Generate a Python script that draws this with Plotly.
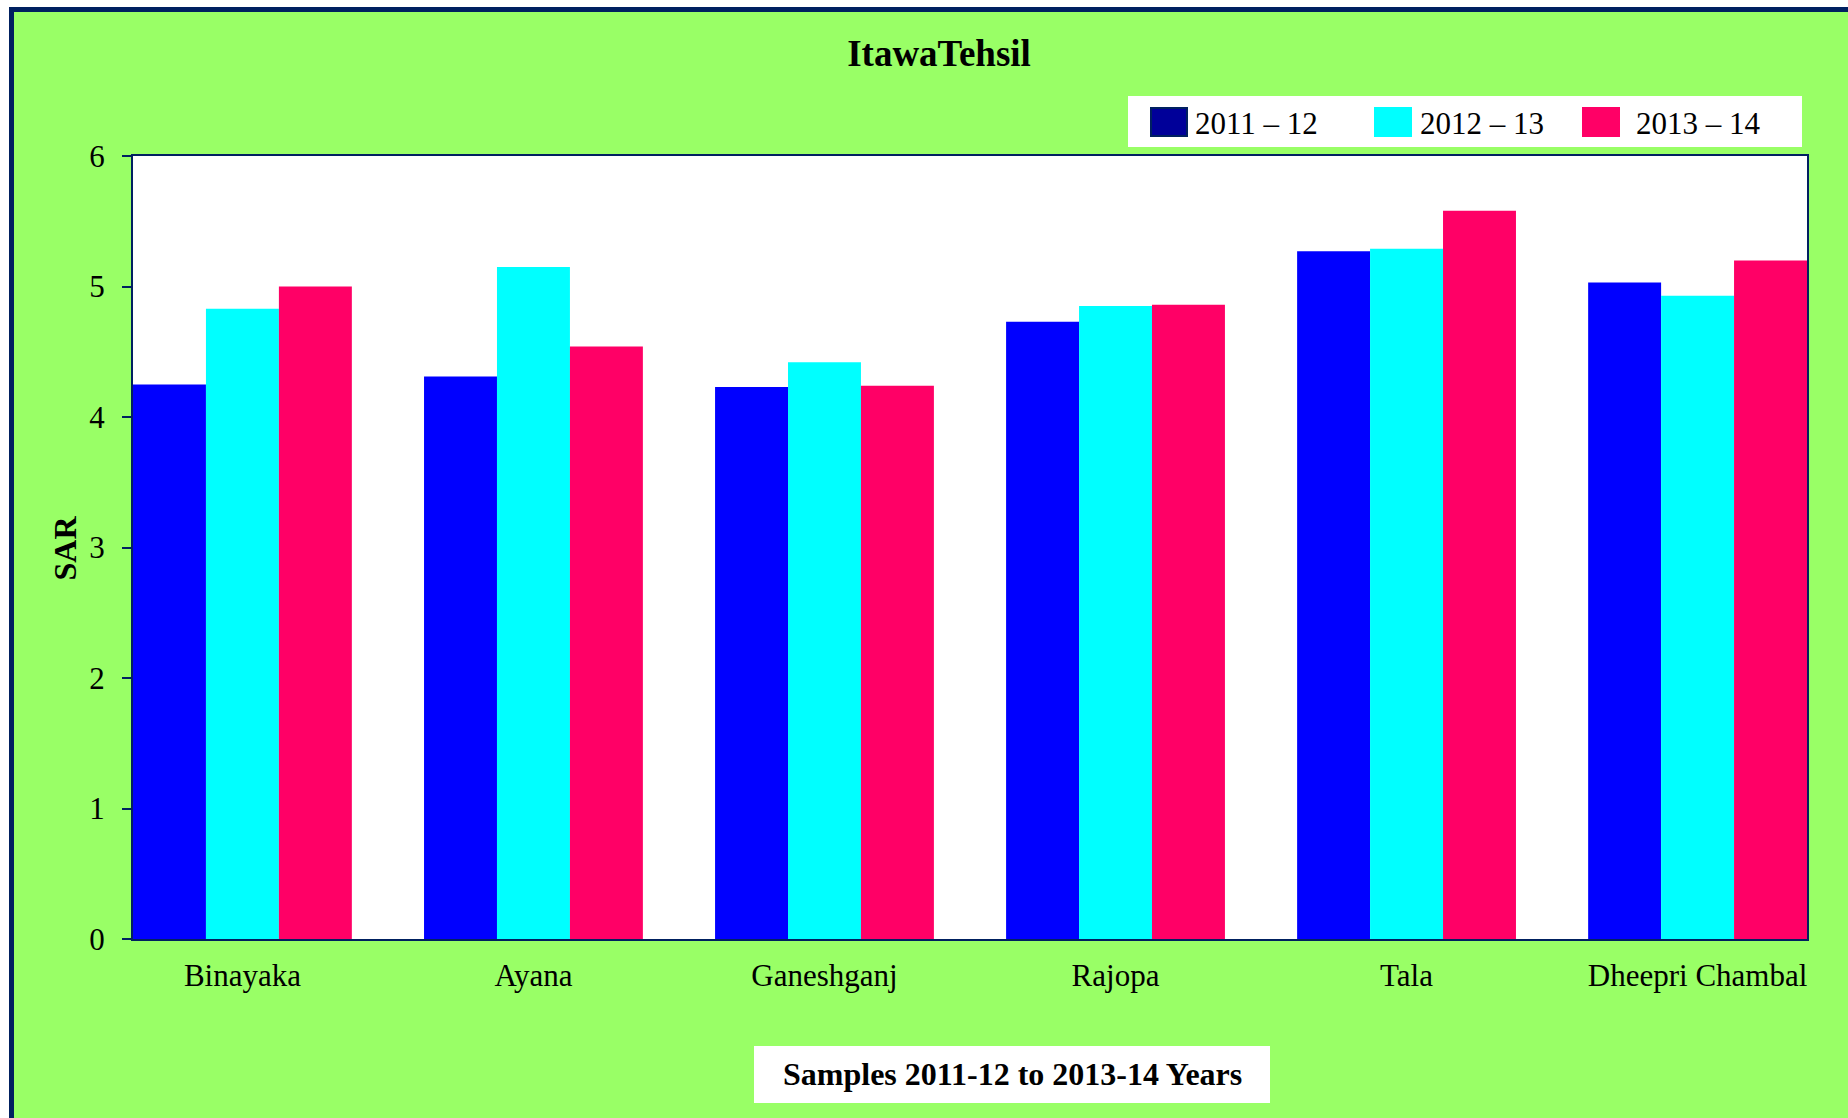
import plotly.graph_objects as go

# ---- data -------------------------------------------------------------
categories = ["Binayaka", "Ayana", "Ganeshganj", "Rajopa", "Tala", "Dheepri Chambal"]
sar_2011_12 = [4.25, 4.31, 4.23, 4.73, 5.27, 5.03]
sar_2012_13 = [4.83, 5.15, 4.42, 4.85, 5.29, 4.93]
sar_2013_14 = [5.00, 4.54, 4.24, 4.86, 5.58, 5.20]
series_names = ["2011 – 12", "2012 – 13", "2013 – 14"]
y_ticks = [0, 1, 2, 3, 4, 5, 6]

chart_title = "ItawaTehsil"
y_title = "SAR"
x_title = "Samples 2011-12 to 2013-14 Years"

# ---- styling ----------------------------------------------------------
bar_colors = ["#0000FF", "#00FFFF", "#FF0066"]
swatch_colors = ["#000099", "#00FFFF", "#FF0066"]
swatch_borders = ["#002060", "#00FFFF", "#FF0066"]
GREEN = "#99FF66"
NAVY = "#002060"
FONT = "Liberation Serif, Times New Roman, serif"

W, H = 1848, 1118
L, R, T, B = 133, 41, 156, 179
PW, PH = W - L - R, H - T - B


def px_x(x):
    """figure pixel column -> paper x"""
    return (x - L) / PW


def px_y(y):
    """figure pixel row -> paper y"""
    return (H - B - y) / PH


fig = go.Figure()
for name, vals, col in zip(series_names, [sar_2011_12, sar_2012_13, sar_2013_14], bar_colors):
    fig.add_trace(go.Bar(x=categories, y=vals, name=name, marker=dict(color=col, line=dict(width=0)),
                         showlegend=False))

shapes = [
    # white margin outside the framed chart area
    dict(type="rect", xref="paper", yref="paper", x0=px_x(-50), x1=px_x(9), y0=px_y(-50), y1=px_y(H + 50),
         fillcolor="white", line=dict(width=0), layer="below"),
    dict(type="rect", xref="paper", yref="paper", x0=px_x(-50), x1=px_x(W + 50), y0=px_y(-50), y1=px_y(7),
         fillcolor="white", line=dict(width=0), layer="below"),
    # navy frame
    dict(type="rect", xref="paper", yref="paper", x0=px_x(11.5), x1=px_x(W + 60), y0=px_y(9.5), y1=px_y(H + 60),
         fillcolor="rgba(0,0,0,0)", line=dict(color=NAVY, width=5), layer="below"),
    # legend box
    dict(type="rect", xref="paper", yref="paper", x0=px_x(1128), x1=px_x(1802), y0=px_y(96), y1=px_y(147),
         fillcolor="white", line=dict(width=0)),
    # x-axis title box
    dict(type="rect", xref="paper", yref="paper", x0=px_x(754), x1=px_x(1270), y0=px_y(1046), y1=px_y(1103),
         fillcolor="white", line=dict(width=0)),
]

annotations = [
    dict(text=f"<b>{y_title}</b>", xref="paper", yref="paper", x=px_x(64.5), y=px_y(548), textangle=-90,
         showarrow=False, xanchor="center", yanchor="middle", font=dict(family=FONT, size=32, color="black")),
    dict(text=f"<b>{x_title}</b>", xref="paper", yref="paper", x=px_x(1012), y=px_y(1074),
         showarrow=False, xanchor="center", yanchor="middle", font=dict(family=FONT, size=32, color="black")),
]

# legend entries
swatch_x = [1151, 1375, 1583]
text_x = [1193, 1418, 1634]
for i, name in enumerate(series_names):
    shapes.append(dict(type="rect", xref="paper", yref="paper",
                       x0=px_x(swatch_x[i]), x1=px_x(swatch_x[i] + 36), y0=px_y(108), y1=px_y(136),
                       fillcolor=swatch_colors[i], line=dict(color=swatch_borders[i], width=2)))
    annotations.append(dict(text=name, xref="paper", yref="paper", x=px_x(text_x[i]), y=px_y(123),
                            showarrow=False, xanchor="left", yanchor="middle",
                            font=dict(family=FONT, size=31, color="black")))

fig.update_layout(
    template="none",
    width=W, height=H, autosize=False,
    margin=dict(l=L, r=R, t=T, b=B, pad=0),
    paper_bgcolor=GREEN, plot_bgcolor="white",
    barmode="group", bargap=0.248, bargroupgap=0,
    title=dict(text=f"<b>{chart_title}</b>", xref="container", yref="container",
               x=939 / W, y=1 - 53 / H, xanchor="center", yanchor="middle",
               font=dict(family=FONT, size=37, color="black")),
    xaxis=dict(type="category", range=[-0.376, 5.376], showgrid=False, ticks="",
               showline=True, linecolor=NAVY, linewidth=2, mirror=True, automargin=False,
               tickfont=dict(family=FONT, size=31, color="black"), ticklabelstandoff=8),
    yaxis=dict(range=[0, 6], tickvals=y_ticks, showgrid=False, zeroline=False,
               ticks="outside", ticklen=9, tickwidth=2, tickcolor=NAVY,
               showline=True, linecolor=NAVY, linewidth=2, mirror=True, automargin=False,
               tickfont=dict(family=FONT, size=31, color="black"), ticklabelstandoff=11),
    shapes=shapes,
    annotations=annotations,
    showlegend=False,
    font=dict(family=FONT),
)

fig.write_html("out.html")
